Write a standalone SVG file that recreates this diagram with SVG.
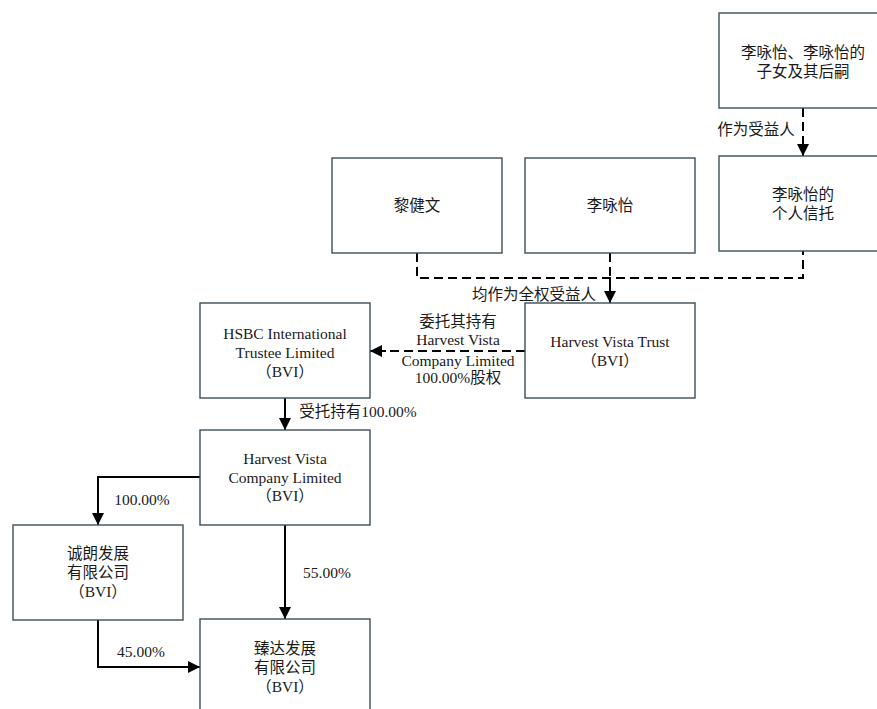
<svg xmlns="http://www.w3.org/2000/svg" width="877" height="709" viewBox="0 0 877 709">
<defs>
<style>
.box{fill:#fff;stroke:#3e4e5a;stroke-width:1.4}
text{font-family:"Liberation Serif","Noto Sans CJK SC",serif;font-size:15.5px;fill:#1a1a1a;text-anchor:middle;dominant-baseline:central}
.ln{fill:none;stroke:#000;stroke-width:2}
.dash{fill:none;stroke:#000;stroke-width:2;stroke-dasharray:9 5}
</style>
<marker id="ah" viewBox="0 0 12 12" refX="12" refY="6" markerWidth="12" markerHeight="12" markerUnits="userSpaceOnUse" orient="auto">
<path d="M0,0 L12,6 L0,12 Z" fill="#000"/>
</marker>
</defs>
<rect width="877" height="709" fill="#fff"/>
<g id="connectors">
<path class="dash" d="M803,108 V144"/>
<path class="ln" d="M803,142 V156" marker-end="url(#ah)"/>
<path class="dash" d="M417,253 V278 H803 V251"/>
<path class="dash" d="M610,253 V278"/>
<path class="ln" d="M610,278 V303" marker-end="url(#ah)"/>
<path class="dash" d="M525,351 H384"/>
<path class="ln" d="M386,351 H370" marker-end="url(#ah)"/>
<path class="ln" d="M285,398 V430" marker-end="url(#ah)"/>
<path class="ln" d="M200,477 H98 V525" marker-end="url(#ah)"/>
<path class="ln" d="M285,525 V619" marker-end="url(#ah)"/>
<path class="ln" d="M98,620 V667 H200" marker-end="url(#ah)"/>
<text x="756" y="129">作为受益人</text>
<text x="534" y="294">均作为全权受益人</text>
<text x="458" y="321">委托其持有</text>
<text x="458" y="339">Harvest Vista</text>
<text x="458" y="360">Company Limited</text>
<text x="458" y="377">100.00%股权</text>
<text x="358" y="411">受托持有100.00%</text>
<text x="142" y="499">100.00%</text>
<text x="327" y="572">55.00%</text>
<text x="141" y="651">45.00%</text>
</g>
<g id="n-children">
<rect class="box" x="719" y="13" width="170" height="95"/>
<text x="803" y="52">李咏怡、李咏怡的</text>
<text x="803" y="71">子女及其后嗣</text>
</g>
<g id="n-personal-trust">
<rect class="box" x="719" y="156" width="170" height="95"/>
<text x="803" y="194">李咏怡的</text>
<text x="803" y="213">个人信托</text>
</g>
<g id="n-li-jianwen">
<rect class="box" x="332" y="158" width="170" height="95"/>
<text x="417" y="205">黎健文</text>
</g>
<g id="n-li-yongyi">
<rect class="box" x="525" y="158" width="170" height="95"/>
<text x="610" y="205">李咏怡</text>
</g>
<g id="n-hv-trust">
<rect class="box" x="525" y="303" width="170" height="95"/>
<text x="610" y="341">Harvest Vista Trust</text>
<text x="610" y="360">（BVI）</text>
</g>
<g id="n-hsbc">
<rect class="box" x="200" y="303" width="170" height="95"/>
<text x="285" y="333">HSBC International</text>
<text x="285" y="352">Trustee Limited</text>
<text x="285" y="371">（BVI）</text>
</g>
<g id="n-hv-company">
<rect class="box" x="200" y="430" width="170" height="95"/>
<text x="285" y="458">Harvest Vista</text>
<text x="285" y="477">Company Limited</text>
<text x="285" y="495">（BVI）</text>
</g>
<g id="n-chenglang">
<rect class="box" x="13" y="525" width="170" height="95"/>
<text x="98" y="553">诚朗发展</text>
<text x="98" y="572">有限公司</text>
<text x="98" y="591">（BVI）</text>
</g>
<g id="n-zhenda">
<rect class="box" x="200" y="619" width="170" height="95"/>
<text x="285" y="648">臻达发展</text>
<text x="285" y="667">有限公司</text>
<text x="285" y="686">（BVI）</text>
</g>
</svg>
